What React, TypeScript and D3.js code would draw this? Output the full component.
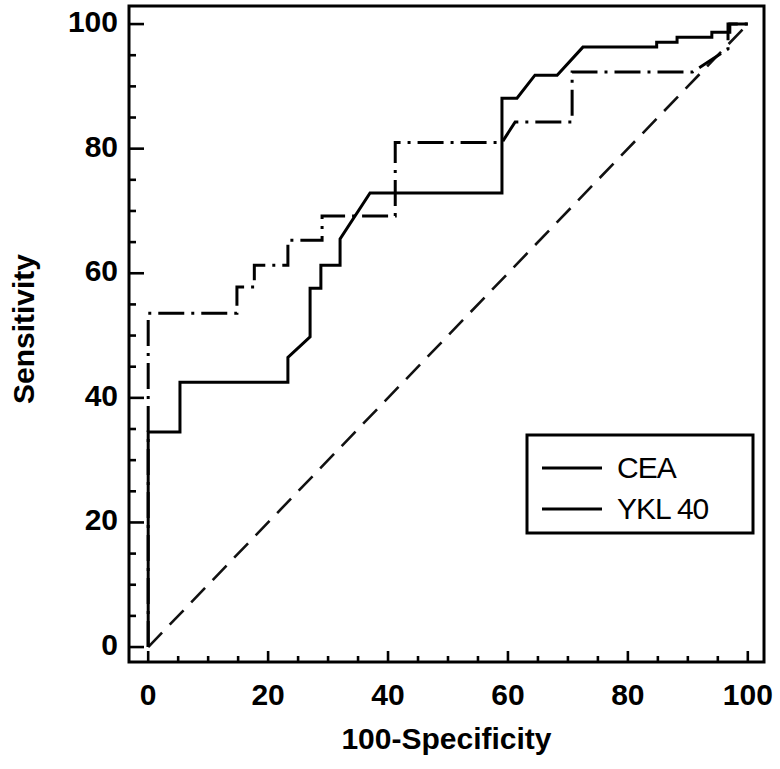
import React, { useEffect, useRef } from 'react';
import * as d3 from 'd3';

// ROC points (100-Specificity, Sensitivity)
const ceaFpr = [0, 0, 5.3, 5.3, 23.3, 23.3, 27, 27, 28.8, 28.8, 32, 32, 37, 59, 59, 61.5, 64.5, 68.2, 72.5, 84.8, 84.8, 88.2, 88.2, 94, 94, 97, 97, 100];
const ceaTpr = [0, 34.5, 34.5, 42.5, 42.5, 46.5, 49.8, 57.6, 57.6, 61.3, 61.3, 65.5, 72.9, 72.9, 88.1, 88.1, 91.8, 91.8, 96.3, 96.3, 97.1, 97.1, 97.9, 97.9, 98.7, 98.7, 100, 100];

const yklFpr = [0, 0, 14.8, 14.8, 17.7, 17.7, 23.3, 23.3, 29, 29, 41.2, 41.2, 59, 61.2, 70.7, 70.7, 90.8, 96.7, 96.7, 100];
const yklTpr = [0, 53.6, 53.6, 57.8, 57.8, 61.3, 61.3, 65.3, 65.3, 69.2, 69.2, 81, 81, 84.3, 84.3, 92.3, 92.3, 96, 100, 100];

const refLine = [0, 100];

const xTicks = [0, 20, 40, 60, 80, 100];
const yTicks = [0, 20, 40, 60, 80, 100];
const minorTicks = d3.range(0, 101, 5).filter(v => v % 20 !== 0);

const seriesNames = ['CEA', 'YKL 40'];

const App = () => {
  const ref = useRef<SVGSVGElement | null>(null);

  useEffect(() => {
    const svg = d3.select(ref.current);
    svg.selectAll('*').remove();

    const left = 129, right = 764, top = 6, bottom = 662;
    const x = d3.scaleLinear().domain([-3.2, 102.7]).range([left, right]);
    const y = d3.scaleLinear().domain([-2.4, 102.9]).range([bottom, top]);
    const font = 'Liberation Sans, Arial, sans-serif';

    const line = d3.line<[number, number]>()
      .x(d => x(d[0]))
      .y(d => y(d[1]));

    // chance line
    svg.append('path')
      .attr('d', line(refLine.map(v => [v, v] as [number, number])))
      .attr('fill', 'none')
      .attr('stroke', '#111')
      .attr('stroke-width', 2.6)
      .attr('stroke-dasharray', '20,11');

    // YKL 40, dash-dot
    svg.append('path')
      .attr('d', line(yklFpr.map((v, i) => [v, yklTpr[i]] as [number, number])))
      .attr('fill', 'none')
      .attr('stroke', '#000')
      .attr('stroke-width', 3)
      .attr('stroke-dasharray', '26,7,3,7');

    // CEA, solid
    svg.append('path')
      .attr('d', line(ceaFpr.map((v, i) => [v, ceaTpr[i]] as [number, number])))
      .attr('fill', 'none')
      .attr('stroke', '#000')
      .attr('stroke-width', 3);

    // frame
    svg.append('rect')
      .attr('x', left).attr('y', top)
      .attr('width', right - left).attr('height', bottom - top)
      .attr('fill', 'none')
      .attr('stroke', '#000')
      .attr('stroke-width', 3);

    // ticks, pointing inward
    const g = svg.append('g').attr('stroke', '#000').attr('stroke-width', 2.6);
    xTicks.forEach(v => {
      g.append('line').attr('x1', x(v)).attr('x2', x(v)).attr('y1', bottom).attr('y2', bottom - 11);
    });
    minorTicks.forEach(v => {
      g.append('line').attr('x1', x(v)).attr('x2', x(v)).attr('y1', bottom).attr('y2', bottom - 6);
    });
    yTicks.forEach(v => {
      g.append('line').attr('x1', left).attr('x2', left + 15).attr('y1', y(v)).attr('y2', y(v));
    });
    minorTicks.forEach(v => {
      g.append('line').attr('x1', left).attr('x2', left + 7).attr('y1', y(v)).attr('y2', y(v));
    });

    // tick labels
    svg.append('g').selectAll('text')
      .data(xTicks)
      .enter()
      .append('text')
      .attr('x', d => x(d))
      .attr('y', 705)
      .attr('text-anchor', 'middle')
      .attr('font-family', font)
      .attr('font-weight', 'bold')
      .attr('font-size', 30)
      .text(d => d);

    svg.append('g').selectAll('text')
      .data(yTicks)
      .enter()
      .append('text')
      .attr('x', 118)
      .attr('y', d => y(d) + 8)
      .attr('text-anchor', 'end')
      .attr('font-family', font)
      .attr('font-weight', 'bold')
      .attr('font-size', 30)
      .text(d => d);

    // axis titles
    svg.append('text')
      .attr('x', (left + right) / 2)
      .attr('y', 749)
      .attr('text-anchor', 'middle')
      .attr('font-family', font)
      .attr('font-weight', 'bold')
      .attr('font-size', 30)
      .text('100-Specificity');

    svg.append('text')
      .attr('transform', `translate(34,${(top + bottom) / 2 - 5}) rotate(-90)`)
      .attr('text-anchor', 'middle')
      .attr('font-family', font)
      .attr('font-weight', 'bold')
      .attr('font-size', 30)
      .text('Sensitivity');

    // legend
    const lg = svg.append('g');
    lg.append('rect')
      .attr('x', 527).attr('y', 435)
      .attr('width', 226).attr('height', 98)
      .attr('fill', '#fff')
      .attr('stroke', '#000')
      .attr('stroke-width', 3);
    seriesNames.forEach((name, i) => {
      const ly = 468 + i * 41;
      lg.append('line')
        .attr('x1', 542).attr('x2', 602)
        .attr('y1', ly).attr('y2', ly)
        .attr('stroke', '#000')
        .attr('stroke-width', 3);
      lg.append('text')
        .attr('x', 617)
        .attr('y', ly + 10)
        .attr('font-family', font)
        .attr('font-size', 30)
        .attr('letter-spacing', -1)
        .text(name);
    });
  }, []);

  return (
    <svg ref={ref} width={780} height={769}
      style={{ position: 'absolute', left: 0, top: 0, background: '#fff' }} />
  );
};

export default App;
